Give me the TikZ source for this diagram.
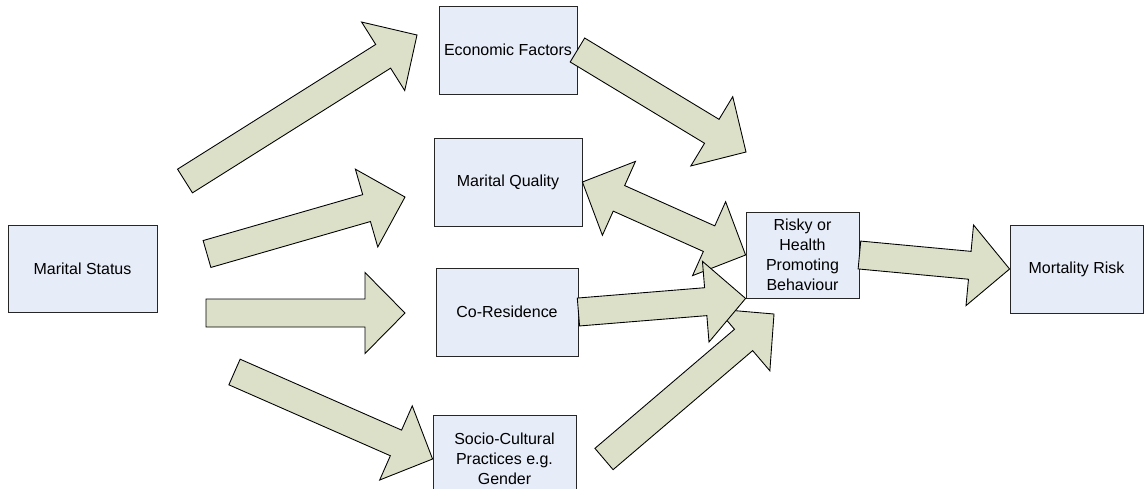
\documentclass[tikz,border=0pt]{standalone}
\usepackage{fontspec}
\setmainfont{Liberation Sans}
\usetikzlibrary{calc}
\definecolor{boxfill}{HTML}{E6ECF8}
\definecolor{arrowfill}{HTML}{DCE0C8}
\tikzset{
  factor/.style={draw=black!85, fill=boxfill, line width=0.5pt, minimum height=1.76cm,
    inner sep=0pt, align=center, font=\fontsize{9.1}{11.4}\selectfont},
  fat/.style={draw=black, fill=arrowfill, line width=0.5pt, line join=miter},
}
\newcommand\shaftw{0.28cm}
\newcommand\headw{0.81cm}
\newcommand\headl{0.8cm}
\newcommand\fatarrow[2]{%
  \coordinate (hb) at ($(#2)!\headl!(#1)$);
  \draw[fat] ($(#1)!\shaftw!90:(#2)$) -- ($(hb)!\shaftw!90:(#2)$) -- ($(hb)!\headw!90:(#2)$)
    -- (#2) -- ($(hb)!\headw!-90:(#2)$) -- ($(hb)!\shaftw!-90:(#2)$) -- ($(#1)!\shaftw!-90:(#2)$) -- cycle;}
\newcommand\fatdoublearrow[2]{%
  \coordinate (ha) at ($(#1)!\headl!(#2)$);
  \coordinate (hb) at ($(#2)!\headl!(#1)$);
  \draw[fat] (#1) -- ($(ha)!\headw!90:(#2)$) -- ($(ha)!\shaftw!90:(#2)$) -- ($(hb)!\shaftw!90:(#2)$)
    -- ($(hb)!\headw!90:(#2)$) -- (#2) -- ($(hb)!\headw!-90:(#2)$) -- ($(hb)!\shaftw!-90:(#2)$)
    -- ($(ha)!\shaftw!-90:(#2)$) -- ($(ha)!\headw!-90:(#2)$) -- cycle;}
\begin{document}
\begin{tikzpicture}[x=0.02cm, y=-0.02cm]
                \useasboundingbox (0,0) rectangle (1145,488);
                \clip (0,0) rectangle (1145,488);
                \node[factor, minimum width=2.98cm, minimum height=1.74cm] (status) at (82.5,268.5) {Marital Status};
                \node[factor, minimum width=2.76cm] (economic) at (508,50) {Economic Factors};
                \node[factor, minimum width=2.96cm] (quality) at (508,182) {Marital Quality};
                \node[factor, minimum width=2.84cm] (residence) at (507,312) {Co-Residence};
                \node[factor, minimum width=2.86cm] (socio) at (504.5,459) {Socio-Cultural\\Practices e.g.\\Gender};
                \node[factor, minimum width=2.26cm, minimum height=1.72cm] (behaviour) at (802.5,255) {Risky or\\Health\\Promoting\\Behaviour};
                \node[factor, minimum width=2.66cm] (mortality) at (1076.5,269) {Mortality Risk};
                \coordinate (s1) at (185,181);
                \coordinate (e1) at (417,35);
                \coordinate (s2) at (207,254);
                \coordinate (e2) at (405,197);
                \coordinate (s3) at (206,313);
                \coordinate (e3) at (405,313);
                \coordinate (s4) at (234.5,372);
                \coordinate (e5) at (746,152);
                \coordinate (s8) at (604,459);
                \coordinate (e8) at (774,314);
                \fatarrow{s1}{e1}
                \fatarrow{s2}{e2}
                \fatarrow{s3}{e3}
                \fatarrow{s4}{socio.west}
                \fatarrow{economic.east}{e5}
                \fatdoublearrow{quality.east}{behaviour.west}
                \fatarrow{s8}{e8}
                \fatarrow{residence.east}{behaviour.south west}
                \fatarrow{behaviour.east}{mortality.west}
            \end{tikzpicture}
\end{document}
